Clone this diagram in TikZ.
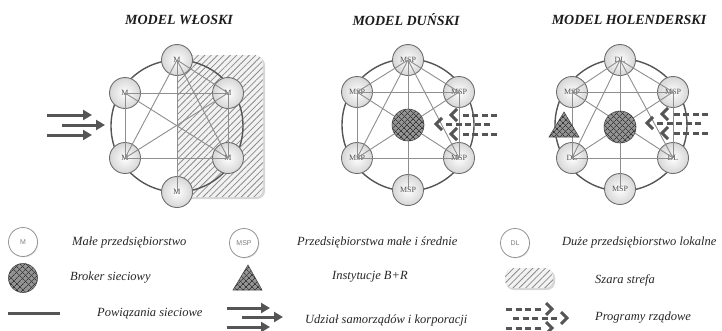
\documentclass[tikz,border=0pt]{standalone}
\usepackage{fontspec}
\setmainfont{Liberation Serif}
\newfontfamily\keysans{Liberation Sans}
\usetikzlibrary{arrows.meta,patterns.meta,shadows}

\definecolor{ringgray}{HTML}{555555}
\definecolor{linkgray}{HTML}{8E8E8E}
\definecolor{inkgray}{HTML}{505050}
\definecolor{titleink}{HTML}{1C1C1C}
\definecolor{textink}{HTML}{262626}

\tikzset{
  firm/.style={circle, minimum size=31pt, inner sep=0pt, draw=ringgray!85,
    line width=0.9pt, inner color=white, outer color=black!16,
    font=\fontsize{8}{8}\selectfont, text=inkgray},
  keyfirm/.style={circle, minimum size=29pt, inner sep=0pt, draw=black!42,
    line width=0.8pt, fill=white, font=\keysans\fontsize{7}{7}\selectfont, text=black!50,
    drop shadow={shadow xshift=0.8pt, shadow yshift=-0.8pt, opacity=0.25}},
  ring/.style={draw=ringgray, line width=1.4pt},
  link/.style={draw=linkgray, line width=0.9pt},
  meshfill/.style={fill=black!42,
    postaction={pattern={Lines[angle=45,distance=4pt,line width=0.7pt]}, pattern color=black!78},
    postaction={pattern={Lines[angle=-45,distance=4pt,line width=0.7pt]}, pattern color=black!78}},
  broker/.style={circle, minimum size=32pt, inner sep=0pt, draw=black!70,
    line width=0.6pt, meshfill},
  hatch/.style={fill=black!5,
    postaction={pattern={Lines[angle=45,distance=4.5pt,line width=0.8pt]}, pattern color=black!45}},
  title/.style={font=\bfseries\itshape\fontsize{14}{14}\selectfont, text=titleink},
  keytext/.style={anchor=west, inner sep=0pt, font=\itshape\fontsize{12.5}{12.5}\selectfont, text=textink},
  fatarrow/.style={draw=ringgray, line width=3pt, -{Triangle[length=9pt,width=10pt]}},
  progdash/.style={draw=ringgray, line width=3pt, dash pattern=on 6pt off 3.5pt},
  chev/.style={draw=ringgray, line width=3pt, line join=miter},
  govprog/.pic={
    \draw[progdash] (0,-9) -- (-37,-9);
    \draw[progdash] (-7,0) -- (-54,0);
    \draw[progdash] (0,10) -- (-37,10);
    \draw[chev] (-40,-15) -- (-46,-9) -- (-40,-3);
    \draw[chev] (-55,-6) -- (-61,0) -- (-55,6);
    \draw[chev] (-40,4) -- (-46,10) -- (-40,16);
  }
}

\begin{document}
\begin{tikzpicture}[x=1pt,y=-1pt]
\useasboundingbox (0,0) rectangle (722,330);

% ---------- titles ----------
\node[title] (tIT) at (179,20) {MODEL WŁOSKI};
\node[title] (tDK) at (406,20) {MODEL DUŃSKI};
\node[title] (tNL) at (629,20) {MODEL HOLENDERSKI};

% ---------- Italian model ----------
\fill[black!16] (180,57) -- (257,57) arc[start angle=-90,end angle=0,radius=8]
  -- (265,191) arc[start angle=0,end angle=90,radius=8] -- (180,199) -- cycle;
\path[hatch] (178,55) -- (255,55) arc[start angle=-90,end angle=0,radius=8]
  -- (263,189) arc[start angle=0,end angle=90,radius=8] -- (178,197) -- cycle;
\draw[ring] (177,126) circle[radius=66];
\node[firm] (iT)  at (177,60)  {M};
\node[firm] (iUL) at (125,93)  {M};
\node[firm] (iUR) at (228,93)  {M};
\node[firm] (iLL) at (125,158) {M};
\node[firm] (iLR) at (228,158) {M};
\node[firm] (iB)  at (177,192) {M};
\foreach \a/\b in {iUL/iUR, iLL/iLR, iUL/iLL, iUR/iLR, iT/iB, iT/iUR,
                   iT/iLL, iT/iLR, iUL/iLR, iLL/iUR}
  \draw[link] (\a.center) -- (\b.center);
\draw[fatarrow] (47,115) -- (92,115);
\draw[fatarrow] (62,125) -- (105,125);
\draw[fatarrow] (47,135) -- (92,135);

% ---------- Danish model ----------
\draw[ring] (408,125) circle[radius=66];
\node[firm] (dT)  at (408,60)  {MSP};
\node[firm] (dUL) at (357,92)  {MSP};
\node[firm] (dUR) at (459,92)  {MSP};
\node[firm] (dLL) at (357,158) {MSP};
\node[firm] (dLR) at (459,158) {MSP};
\node[firm] (dB)  at (408,190) {MSP};
\foreach \a/\b in {dUL/dUR, dLL/dLR, dUL/dLL, dUR/dLR, dT/dB, dT/dUR, dT/dUL,
                   dT/dLL, dT/dLR, dUL/dLR, dLL/dUR}
  \draw[link] (\a.center) -- (\b.center);
\node[broker] (dC) at (408,125) {};
\pic at (497,124) {govprog};

% ---------- Dutch model ----------
\draw[ring] (621,125) circle[radius=66];
\node[firm] (hT)  at (620,60)  {DL};
\node[firm] (hUL) at (572,92)  {MSP};
\node[firm] (hUR) at (673,92)  {MSP};
\node[firm] (hLL) at (572,158) {DL};
\node[firm] (hLR) at (673,158) {DL};
\node[firm] (hB)  at (620,189) {MSP};
\foreach \a/\b in {hUL/hUR, hLL/hLR, hUL/hLL, hUR/hLR, hT/hB, hT/hUR, hT/hUL,
                   hT/hLL, hT/hLR, hUL/hLR, hLL/hUR}
  \draw[link] (\a.center) -- (\b.center);
\node[broker] (hC) at (620,127) {};
\path[meshfill, draw=black!70, line width=0.6pt] (549,137) -- (579,137) -- (564,112) -- cycle;
\pic at (708,123) {govprog};

% ---------- key ----------
\node[keyfirm] (kM) at (23,242) {M};
\node[keytext] (kMt) at (72,242) {Małe przedsiębiorstwo};
\node[keyfirm] (kMSP) at (244,243) {MSP};
\node[keytext] (kMSPt) at (297,242) {Przedsiębiorstwa małe i średnie};
\node[keyfirm] (kDL) at (515,243) {DL};
\node[keytext] (kDLt) at (562,242) {Duże przedsiębiorstwo lokalne};

\node[broker, minimum size=29pt] (kB) at (23,278) {};
\node[keytext] (kBt) at (70,278) {Broker sieciowy};
\path[meshfill, draw=black!70, line width=0.6pt] (233,290) -- (262,290) -- (248,265) -- cycle;
\node[keytext] (kRt) at (332,277) {Instytucje B+R};
\fill[black!16, rounded corners=8pt] (506,270) rectangle (555,290);
\path[hatch, rounded corners=8pt] (505,268) rectangle (553,288);
\node[keytext] (kZt) at (595,280) {Szara strefa};

\draw[draw=ringgray, line width=3pt] (8,313) -- (60,313);
\node[keytext] (kLt) at (97,314) {Powiązania sieciowe};
\draw[fatarrow] (227,308) -- (270,308);
\draw[fatarrow] (242,317) -- (283,317);
\draw[fatarrow] (227,327) -- (270,327);
\node[keytext] (kAt) at (305,320) {Udział samorządów i korporacji};
\pic[xscale=-1] at (506,318) {govprog};
\node[keytext] (kPt) at (595,318) {Programy rządowe};
\end{tikzpicture}
\end{document}
